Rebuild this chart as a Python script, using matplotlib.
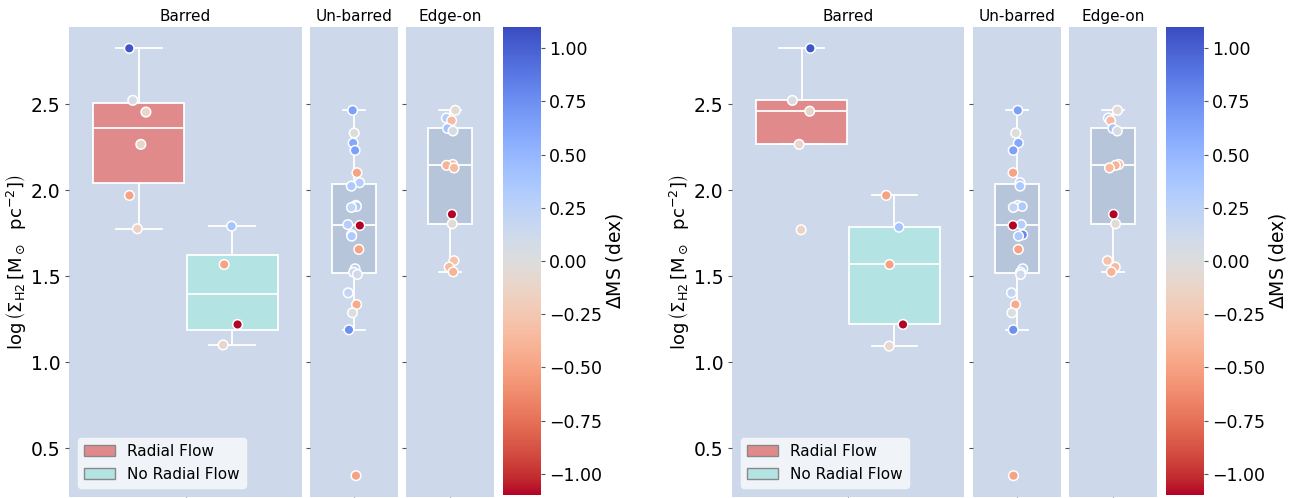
import numpy as np
import matplotlib
matplotlib.use("Agg")
import matplotlib.pyplot as plt
from matplotlib.colors import Normalize
from matplotlib.patches import Patch
from matplotlib.ticker import FuncFormatter

# log Sigma_H2 values and Delta MS (dex) colour values
# left panel: barred galaxies split by radial flow
left_rf = [2.826, 2.523, 2.455, 2.267, 1.970, 1.776]
left_rf_ms = [1.05, 0.05, -0.12, -0.10, -0.50, -0.15]
left_norf = [1.791, 1.568, 1.219, 1.100]
left_norf_ms = [0.40, -0.50, -1.10, -0.10]

# right panel: one galaxy moved from radial flow to no radial flow
right_rf = [2.826, 2.523, 2.460, 2.267, 1.770]
right_rf_ms = [1.05, 0.05, -0.12, -0.10, -0.15]
right_norf = [1.970, 1.785, 1.568, 1.219, 1.093]
right_norf_ms = [-0.50, 0.40, -0.50, -1.10, -0.10]

unbarred = [2.465, 2.333, 2.275, 2.232, 2.102, 2.044, 2.024, 1.912, 1.906, 1.900,
            1.800, 1.795, 1.741, 1.733, 1.656, 1.543, 1.523, 1.510, 1.403, 1.335,
            1.287, 1.188, 0.339]
unbarred_ms = [0.65, 0.00, 0.60, 0.65, -0.50, 0.30, 0.35, 0.10, 0.35, 0.20,
               0.30, -1.10, 0.80, 0.35, -0.50, 0.30, 0.15, 0.10, 0.20, -0.45,
               0.00, 0.75, -0.50]

edgeon = [2.465, 2.420, 2.405, 2.360, 2.345, 2.150, 2.145, 2.130, 1.860, 1.805,
          1.590, 1.553, 1.525]
edgeon_ms = [-0.05, 0.30, -0.35, 0.40, 0.05, -0.35, -0.40, -0.35, -1.10, -0.05,
             -0.30, -0.35, -0.40]

group_labels = ["Radial Flow", "No Radial Flow"]
panel_titles = ["Barred", "Un-barred", "Edge-on"]
cbar_ticks = [1.0, 0.75, 0.5, 0.25, 0.0, -0.25, -0.5, -0.75, -1.0]

W, H = 1298, 498
BG = "#cdd9ea"
RF_COL = "#e08a8c"
NORF_COL = "#b3e4e3"
SINGLE_COL = "#b6c5d9"
cmap = plt.get_cmap("coolwarm_r")
norm = Normalize(vmin=-1.1, vmax=1.1)
rng = np.random.default_rng(3)

plt.rcParams["font.family"] = ["DejaVu Sans"]
fig = plt.figure(figsize=(W / 100, H / 100), dpi=100)


def px_axes(x0, x1, y0=27, y1=497):
    return fig.add_axes([x0 / W, 1 - y1 / H, (x1 - x0) / W, (y1 - y0) / H])


def style(ax, title, labels=True):
    ax.set_facecolor(BG)
    for s in ax.spines.values():
        s.set_visible(False)
    ax.set_ylim(0.215, 2.95)
    ax.set_xlim(-0.5, 0.5)
    ax.set_yticks([0.5, 1.0, 1.5, 2.0, 2.5])
    ax.set_xticks([0])
    ax.set_xticklabels([])
    ax.tick_params(axis="both", length=3, width=0.8, color="#555555",
                   labelsize=13.5, pad=3)
    if not labels:
        ax.set_yticklabels([])
    ax.set_title(title, fontsize=11, pad=4)


def box(ax, vals, pos, width, color):
    bp = ax.boxplot(vals, positions=[pos], widths=width, patch_artist=True,
                    showfliers=False, whis=1.5, zorder=2, manage_ticks=False)
    for p in bp["boxes"]:
        p.set_facecolor(color)
        p.set_edgecolor("white")
        p.set_linewidth(1.3)
    for k in ("whiskers", "caps", "medians"):
        for ln in bp[k]:
            ln.set_color("white")
            ln.set_linewidth(1.3)


def strip(ax, vals, ms, pos, jit):
    x = pos + rng.uniform(-jit, jit, len(vals))
    ax.scatter(x, vals, c=ms, cmap=cmap, norm=norm, s=48,
               edgecolors="white", linewidths=1.1, zorder=3)


def fmt(v, _):
    return f"{v:.2f}".replace("-", "\u2212")


panels = [
    (69, 302, 310, 398, 406, 494, 503, 541, left_rf, left_rf_ms, left_norf, left_norf_ms),
    (732, 964, 973, 1061, 1069, 1157, 1166, 1204, right_rf, right_rf_ms, right_norf, right_norf_ms),
]

for (bx0, bx1, ux0, ux1, ex0, ex1, cx0, cx1, rf, rf_ms, norf, norf_ms) in panels:
    ax = px_axes(bx0, bx1)
    style(ax, panel_titles[0])
    box(ax, rf, -0.2, 0.39, RF_COL)
    box(ax, norf, 0.2, 0.39, NORF_COL)
    strip(ax, rf, rf_ms, -0.2, 0.05)
    strip(ax, norf, norf_ms, 0.2, 0.05)
    ax.set_ylabel(r"$\log\left(\Sigma_{\rm H2}\,[\rm M_\odot\ \ pc^{-2}]\right)$",
                  fontsize=13, labelpad=2)
    handles = [Patch(facecolor=RF_COL, edgecolor="#888888", label=group_labels[0]),
               Patch(facecolor=NORF_COL, edgecolor="#888888", label=group_labels[1])]
    ax.legend(handles=handles, loc="lower left", fontsize=11, frameon=True,
              facecolor="#f5f6fa", edgecolor="#f5f6fa", framealpha=0.9,
              borderaxespad=0.6)

    ax = px_axes(ux0, ux1)
    style(ax, panel_titles[1], labels=False)
    box(ax, unbarred, 0, 0.5, SINGLE_COL)
    strip(ax, unbarred, unbarred_ms, 0, 0.07)

    ax = px_axes(ex0, ex1)
    style(ax, panel_titles[2], labels=False)
    box(ax, edgeon, 0, 0.5, SINGLE_COL)
    strip(ax, edgeon, edgeon_ms, 0, 0.07)

    cax = px_axes(cx0, cx1, 27, 495)
    sm = plt.cm.ScalarMappable(norm=norm, cmap=cmap)
    cb = fig.colorbar(sm, cax=cax)
    cb.outline.set_visible(False)
    cb.set_ticks(cbar_ticks)
    cb.ax.yaxis.set_major_formatter(FuncFormatter(fmt))
    cb.ax.tick_params(labelsize=12.5, length=3, width=0.8, color="#555555",
                      pad=3)
    cb.set_label(r"$\Delta$MS (dex)", fontsize=13.5, labelpad=1)

fig.savefig("out.png", dpi=100)
